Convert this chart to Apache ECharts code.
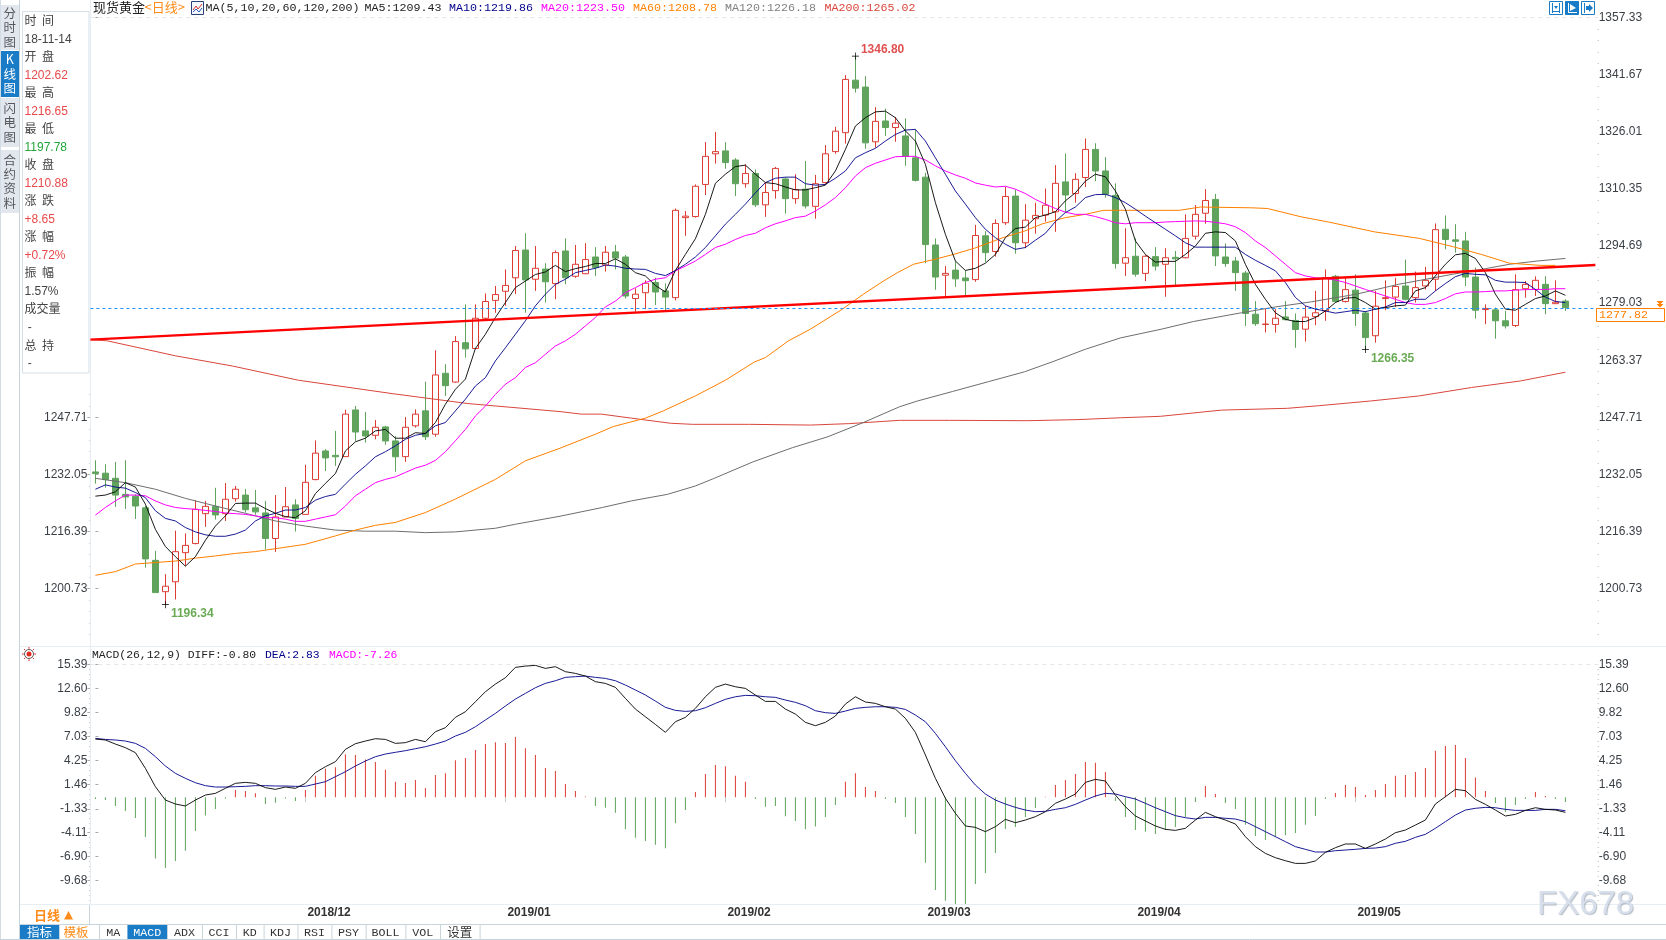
<!DOCTYPE html>
<html><head><meta charset="utf-8">
<style>html,body{margin:0;padding:0;background:#fff;overflow:hidden}#c{width:1666px;height:940px}</style>
<script src="https://cdn.jsdelivr.net/npm/echarts@6/dist/echarts.min.js"></script>
</head><body><div id="c"></div>
<script>
// [open, close, low, high]
const candles = [
[1232.75,1232.3,1229.55,1235.95],[1232.4,1230.65,1228.45,1234.85],[1231,1226.4,1223.15,1235.5],[1226.6,1225.9,1222.6,1235.95],[1226.1,1223.4,1219.85,1226.6],
[1222.9,1208.9,1206.5,1223.4],[1208.5,1199.65,1199.65,1211.1],[1199.9,1201.4,1196.34,1204.7],[1202.62,1210.88,1197.78,1216.65],[1210.6,1212.6,1207,1215.9],
[1213.1,1222.5,1212.9,1225],[1221.3,1223.3,1217.7,1224.8],[1223.3,1220.96,1219.7,1228.4],[1221.3,1225.25,1219.3,1229.7],[1225.4,1228,1224.6,1228.9],
[1226.4,1222.4,1221.6,1228.1],[1222.9,1221.8,1221,1227.8],[1221.5,1214.5,1211.5,1224.8],[1214.5,1220.4,1210.8,1226.4],[1220.4,1223.2,1220.4,1228.6],
[1223.7,1220,1216.4,1225.25],[1221.1,1229.9,1221.1,1234.7],[1230.65,1237.9,1230.45,1241.4],[1238.5,1236.6,1233,1239],[1237.3,1236.9,1234.4,1244],
[1236.95,1248.6,1236.85,1249.8],[1249.75,1243.7,1241.25,1250.85],[1244,1242.6,1240.8,1249.2],[1242.8,1245,1241.7,1247],[1245.1,1241.25,1240.2,1245.4],
[1241.25,1236.9,1232.8,1242.6],[1236.95,1245,1235.5,1247.8],[1245.4,1248.6,1244.9,1249.9],[1249.5,1242.4,1241.5,1257.5],[1243.1,1259.35,1242.4,1266.1],
[1259.8,1256.4,1253.6,1262.3],[1257.4,1268.5,1257.2,1270],[1268.2,1266.5,1264.1,1278.7],[1266.6,1274.9,1266.4,1278.7],[1274.9,1279.5,1274.6,1281.7],
[1279.8,1281.4,1276.4,1283.75],[1282.3,1283.9,1278.3,1288.3],[1286,1293.5,1281.5,1294.7],[1293.6,1285.4,1276.4,1298.2],[1285.6,1288.6,1282.4,1294.7],
[1288.4,1284.9,1279.2,1290],[1284.4,1292.9,1280.1,1293.5],[1293.35,1286,1284.2,1296.8],[1286.4,1289.7,1286,1295],[1287.1,1291,1287,1295.5],
[1291.7,1288.8,1286.5,1294.4],[1289.5,1293,1287.7,1294.7],[1293.1,1291.4,1288.3,1295],[1291.7,1281,1280.3,1292.25],[1280.3,1281.5,1276.7,1283.1],
[1281.9,1284.5,1277.4,1285.3],[1284.7,1282.1,1278.5,1286],[1282.4,1280.7,1277.1,1284.5],[1280.55,1304.5,1279.8,1305],[1302.5,1302.9,1297.5,1304.3],
[1302.8,1311.1,1302.5,1311.6],[1311.6,1319.3,1308.7,1323.2],[1320,1320.6,1317.3,1326],[1320.8,1317.6,1315.9,1323.2],[1318.3,1311.8,1308.4,1318.8],
[1311.8,1314.6,1310.7,1317.1],[1314.6,1306,1305.4,1315.7],[1306,1309.4,1302.7,1312.1],[1309.9,1316,1307.7,1316.4],[1313.1,1307.7,1303.6,1313.5],
[1307.7,1310.2,1306.3,1314.4],[1310.3,1305.7,1305,1318],[1305.6,1311.8,1302.2,1314.2],[1312.1,1320,1311.8,1322.4],[1320.6,1326.2,1320,1327.4],
[1325.8,1340.4,1322.8,1341.6],[1340.2,1338,1336.8,1346.8],[1338.3,1323,1321.4,1341.3],[1323.3,1328.9,1321.7,1332.8],[1329,1327.2,1324.9,1332.4],
[1327.2,1328.4,1323.3,1330.1],[1324.9,1319.3,1316.7,1329.7],[1318.9,1312.7,1312.4,1326.5],[1313.6,1295.1,1290,1314.8],[1295,1286.2,1282.7,1296.8],
[1286.7,1287.2,1281,1289.2],[1288.1,1285.7,1283.5,1290.6],[1285.95,1285.2,1281,1288],[1285.5,1297.6,1284.9,1300.5],[1297.5,1292.9,1290.3,1298.8],
[1293.2,1300.9,1291.8,1302],[1301.1,1308.3,1300.5,1310.9],[1308.4,1295.6,1292.6,1310.2],[1295.6,1301.8,1294.1,1306.2],[1302.2,1303.1,1298.1,1306.6],
[1303.2,1305.9,1301.4,1310.5],[1304.1,1311.9,1298.6,1316.9],[1312.3,1308.7,1304.1,1320.1],[1309.1,1313,1306.6,1314.7],[1313.5,1321.2,1310.9,1324.2],
[1321.2,1315.3,1312.5,1322.9],[1315.3,1308.9,1308,1319.1],[1308.6,1289.9,1288.5,1311.9],[1290,1291.5,1286.5,1299.6],[1291.9,1287,1286.3,1296.8],
[1287.2,1291.9,1285.1,1292.2],[1291.8,1289.2,1288,1294.4],[1289.7,1291.5,1280.8,1294.1],[1291.6,1291.2,1283.75,1293.35],[1291.5,1296.8,1291.3,1303.4],
[1297.4,1303.4,1296.5,1305.95],[1303.7,1307.2,1300.8,1310.3],[1307.5,1292,1289.2,1309],[1291.7,1289.9,1289,1295.4],[1290.6,1287.4,1282.4,1291.7],
[1287.3,1276.2,1272.8,1287.9],[1276,1273.4,1272.8,1279.6],[1273.2,1273.3,1271,1277.4],[1273.2,1274.9,1270.95,1277.4],[1275.25,1274.5,1274.3,1279.6],
[1274.3,1271.8,1266.8,1276.2],[1271.9,1275.2,1268.5,1278.3],[1275.35,1276.4,1273,1282.4],[1276.9,1286,1274.2,1288.3],[1286.4,1279.5,1279.2,1286.8],
[1279.5,1282.75,1279.2,1286],[1282.6,1276.2,1272.8,1286.95],[1276.35,1269.6,1266.35,1276.9],[1270.1,1278.2,1268.2,1282.4],[1280.3,1280.55,1277.1,1285.3],
[1280.7,1283.6,1278,1286],[1283.75,1280.1,1279.8,1291],[1280.55,1283.3,1279.2,1287.7],[1283.75,1285.3,1282.8,1289],[1285.6,1299.2,1282.4,1300.9],
[1299.3,1296.5,1293.8,1303.1],[1296.4,1296,1292.9,1300.7],[1296.1,1286.2,1283.75,1298.6],[1286.2,1277.1,1274.8,1288.8],[1277.3,1277.6,1273.25,1278.7],
[1277.2,1274.2,1269.3,1277.8],[1274.2,1272.8,1272.1,1276.9],[1272.9,1282.75,1272.5,1286.95],[1283,1284.2,1280.55,1285.1],[1282.8,1285.3,1281,1286.4],
[1284.2,1278.9,1276,1286.4],[1278.9,1279.3,1278.9,1285.3],[1279.6,1277.82,1276.9,1280.1]];

const ma5 = [1226.1,1226.4,1227.3,1229.8,1228.6,1223.9,1217.0,1212.3,1209.5,1206.9,1209.5,1214.0,1217.9,1220.7,1224.1,1224.2,1224.2,1222.7,1221.4,1220.5,1220.2,1222.1,1226.8,1229.6,1232.3,1238.5,1241.0,1242.0,1244.0,1244.4,1242.0,1242.0,1243.5,1243.3,1246.3,1251.3,1255.4,1258.2,1266.6,1270.5,1275.1,1279.2,1283.3,1285.1,1286.9,1287.6,1289.4,1287.7,1288.5,1289.1,1289.9,1289.9,1291.2,1289.7,1287.4,1286.5,1283.9,1282.1,1288.0,1292.4,1296.7,1303.4,1311.9,1314.4,1316.5,1316.9,1314.4,1312.1,1311.8,1310.9,1310.1,1310.1,1310.7,1311.4,1315.3,1321.2,1327.6,1329.9,1331.5,1331.7,1329.9,1326.3,1323.5,1317.1,1306.6,1297.9,1290.6,1288.0,1288.6,1290.0,1292.4,1297.0,1299.5,1299.9,1302.5,1303.2,1304.1,1307.1,1309.3,1312.5,1314.4,1313.7,1309.8,1304.8,1296.1,1292.4,1290.3,1290.5,1290.5,1292.4,1294.7,1298.2,1298.6,1298.4,1296.1,1289.7,1284.2,1280.1,1276.4,1274.6,1274.0,1274.0,1275.1,1276.9,1279.2,1280.4,1280.6,1279.2,1277.4,1277.8,1278.3,1278.5,1282.4,1283.3,1286.5,1289.7,1292.3,1292.7,1291.3,1287.4,1281.5,1277.4,1277.1,1278.7,1280.3,1281.0,1282.4,1281.2];
const ma10 = [1228.0,1229.2,1228.6,1228.3,1227.1,1225.7,1222.1,1220.0,1219.3,1217.5,1216.3,1215.5,1215.1,1215.1,1215.7,1216.8,1219.3,1220.7,1221.4,1222.3,1222.3,1223.0,1225.0,1226.0,1226.6,1229.4,1232.1,1234.4,1236.9,1238.3,1239.9,1241.7,1242.8,1243.3,1245.4,1246.3,1249.5,1252.7,1256.3,1258.6,1263.2,1266.8,1270.5,1274.2,1278.3,1281.5,1284.2,1285.6,1287.4,1288.0,1288.6,1289.5,1289.2,1288.6,1288.4,1288.3,1287.2,1286.6,1288.0,1289.7,1291.7,1294.3,1297.5,1300.7,1303.4,1306.2,1309.3,1312.1,1313.3,1313.6,1313.6,1311.8,1311.4,1311.6,1313.3,1315.3,1318.9,1320.3,1321.5,1323.5,1325.3,1326.5,1326.7,1323.5,1318.9,1314.4,1309.8,1306.2,1302.5,1299.3,1297.0,1295.2,1293.8,1294.3,1296.3,1298.2,1301.4,1303.9,1305.4,1308.0,1308.8,1308.9,1308.0,1306.6,1304.8,1302.9,1301.1,1299.3,1297.5,1295.6,1294.4,1294.4,1294.4,1294.4,1294.4,1292.4,1290.8,1289.4,1287.9,1284.7,1280.6,1278.3,1277.4,1276.9,1276.3,1276.7,1277.1,1276.7,1277.4,1278.0,1279.2,1279.2,1280.1,1280.1,1282.4,1284.4,1286.3,1287.2,1286.95,1286.8,1285.3,1284.8,1284.8,1284.7,1282.8,1280.7,1279.5,1279.2];
const ma20 = [1220.9,1223.0,1224.8,1226.4,1226.4,1226.2,1224.8,1223.7,1223.0,1222.7,1222.5,1222.2,1221.9,1221.5,1221.3,1221.1,1220.7,1220.2,1220.2,1219.8,1219.2,1219.2,1219.8,1220.4,1221.0,1223.4,1226.2,1228.0,1229.8,1230.7,1231.4,1232.6,1233.8,1234.6,1235.9,1238.3,1241.3,1244.4,1248.1,1250.8,1254.0,1256.8,1258.6,1261.4,1262.7,1265.0,1267.3,1268.7,1270.5,1272.8,1275.1,1278.0,1279.6,1281.9,1283.3,1284.7,1285.6,1286.0,1287.9,1289.2,1290.6,1292.4,1294.3,1295.2,1296.5,1297.6,1298.2,1299.7,1300.8,1301.6,1302.5,1302.9,1304.3,1306.0,1308.0,1310.7,1313.9,1316.2,1317.4,1318.3,1319.2,1319.3,1319.3,1318.3,1316.7,1315.3,1314.2,1313.3,1312.0,1311.4,1310.9,1311.1,1310.3,1309.1,1307.5,1306.2,1305.0,1304.0,1303.4,1303.4,1302.8,1302.0,1301.1,1300.8,1301.1,1301.1,1301.1,1301.3,1301.4,1301.5,1301.6,1301.5,1301.2,1300.8,1300.0,1298.4,1296.1,1294.3,1292.0,1289.7,1287.4,1286.5,1286.0,1285.8,1285.4,1284.7,1283.75,1282.8,1281.9,1281.0,1280.1,1279.2,1278.7,1278.7,1279.2,1280.3,1281.6,1282.1,1282.1,1282.2,1282.4,1282.4,1282.6,1282.75,1282.8,1282.8,1283.0,1283.0];
// [candle position, value]
const ma60 = [[0,1204.4],[2,1205.4],[4,1207.5],[6,1207.9],[8,1208.3],[10,1209.1],[12,1209.7],[14,1210.4],[16,1210.9],[18,1211.7],[21,1212.9],[24,1215.2],[26,1216.8],[28,1218.1],[30,1218.9],[33,1221.6],[36,1225.3],[40,1230.7],[43,1235.8],[46.46,1239.25],[50,1243.1],[51.8,1245.2],[55,1247.5],[56.8,1249.5],[60,1253.6],[63,1257.9],[65.9,1262.9],[67,1264.1],[69.3,1268.7],[71.5,1271.9],[74.7,1277.4],[76.8,1281.5],[78.8,1285.1],[80.2,1287.4],[81.8,1289.7],[84,1291.1],[85.8,1292.4],[87.9,1294.1],[90.75,1297.0],[92.9,1298.8],[94.7,1300.8],[97,1302.5],[99,1303.4],[100.8,1304.5],[102.5,1304.5],[108.4,1304.5],[110.5,1305.4],[115.5,1305.2],[117.2,1305.0],[120.6,1302.7],[123.3,1301.3],[127.9,1298.6],[132.4,1296.8],[135.8,1294.5],[138.6,1292.4],[141.4,1290.0],[144.5,1289.4],[146,1289.4]];
const ma120 = [[0,1231.0],[3,1229.8],[6,1228.0],[9,1225.5],[12,1223.4],[15,1221.4],[18,1219.3],[21,1217.9],[24,1216.8],[27,1216.5],[30,1216.5],[33,1216.1],[36,1216.3],[40,1217.3],[42,1218.4],[46.46,1220.6],[50.7,1223.0],[53.6,1224.8],[57.2,1226.6],[60,1228.9],[61.8,1230.9],[65.75,1235.5],[69.7,1239.4],[73.25,1242.4],[76.8,1246.3],[80.4,1250.6],[82.2,1252.2],[85.7,1254.8],[89.3,1257.5],[92.9,1260.2],[95.75,1263.0],[99,1266.4],[102.5,1269.5],[106.6,1271.9],[109.8,1274.0],[114.6,1276.4],[118,1278.0],[121.6,1279.4],[126.1,1281.5],[130.3,1284.2],[135.8,1287.0],[139,1288.5],[141.4,1289.7],[144.2,1290.6],[147,1291.3]];
const ma200 = [[-0.3,1269.0],[1.2,1268.7],[8,1264.6],[13.7,1261.8],[20.3,1257.9],[29.75,1254.2],[37.25,1251.5],[46.46,1249.3],[48.6,1248.6],[50.6,1248.6],[53.6,1247.5],[57.5,1246.1],[59.7,1245.8],[65.4,1245.8],[71.5,1245.6],[75.4,1246.0],[80.4,1246.9],[85.4,1246.9],[93.25,1246.8],[98.25,1247.1],[102.5,1247.6],[106.5,1248.0],[112.6,1249.7],[119.2,1250.2],[122.3,1250.9],[127.5,1252.2],[132.4,1253.6],[137.6,1255.9],[142.5,1257.7],[147,1260.1]];
const trendLine = [[-0.5,1269.04],[150,1289.5]];
const priceLine = 1277.57;
const extremes = [{i:76,v:1346.80,side:'up'},{i:7,v:1196.34,side:'down'},{i:127,v:1266.35,side:'down'}];

const macdBars = [-0.2,-0.3,-1.0,-1.6,-2.4,-4.6,-7.1,-8.2,-7.4,-6.2,-3.9,-2.1,-1.35,-0.15,0.85,0.73,0.46,-0.77,-0.62,-0.15,-0.43,0.85,2.5,3.3,3.5,5.0,4.9,4.4,4.1,3.2,1.8,1.66,2.0,1.08,2.6,2.8,4.3,4.56,5.5,6.2,6.4,6.3,7.0,5.7,4.9,3.4,3.06,1.55,0.73,0.08,-1.0,-1.2,-1.8,-3.7,-4.7,-5.07,-5.5,-5.9,-3.0,-1.47,0.62,2.7,3.75,3.6,2.5,1.8,-0.2,-1.1,-1.0,-2.2,-2.75,-3.7,-3.4,-2.3,-0.9,1.8,2.8,1.2,0.73,-0.2,-0.66,-2.3,-4.25,-7.6,-10.75,-12.0,-13,-13,-10.05,-8.8,-6.46,-3.67,-3.44,-2.3,-1.24,0.05,1.43,2.0,2.7,4.1,4.0,2.94,-0.43,-2.3,-3.8,-4.0,-4.25,-3.8,-3.44,-2.3,-0.54,1.3,0.39,-0.66,-1.35,-3.2,-4.5,-4.95,-4.6,-4.4,-4.14,-3.2,-2.17,-0.2,0.5,1.43,1.2,0.27,0.85,1.55,2.5,2.6,2.94,3.4,5.4,5.96,6.07,4.56,2.3,0.73,-0.66,-1.7,-0.9,-0.2,0.62,0.15,-0.2,-0.54];
const diff = [6.76,6.65,6.18,5.76,5.18,3.36,1.23,-0.32,-0.78,-1.01,-0.32,0.26,0.46,1.04,1.62,1.73,1.62,1.12,0.92,1.19,1.04,1.62,2.86,3.55,4.13,5.56,6.22,6.53,6.8,6.72,6.26,6.34,6.72,6.45,7.61,8.08,9.28,9.93,11.09,12.25,13.14,13.88,15.08,15.23,15.31,14.96,15.16,14.58,14.38,14.07,13.42,13.22,12.76,11.48,10.24,9.35,8.46,7.54,8.77,9.28,10.32,11.67,12.76,13.14,12.83,12.64,11.87,11.13,11.13,10.24,9.66,8.70,8.31,8.70,9.43,10.82,11.67,11.06,10.9,10.51,10.24,9.16,7.54,4.91,2.2,-0.12,-1.86,-3.33,-3.49,-3.99,-3.41,-2.56,-2.95,-2.64,-2.25,-1.67,-0.70,-0.2,0.38,1.73,2.08,1.89,0.26,-1.09,-2.17,-2.75,-3.33,-3.72,-3.84,-3.6,-2.64,-1.75,-2.25,-2.64,-3.1,-4.57,-5.73,-6.51,-7.01,-7.36,-7.67,-7.67,-7.39,-6.39,-5.85,-5.42,-5.42,-5.93,-5.42,-4.84,-4.11,-3.8,-3.22,-2.64,-0.78,0.07,0.92,0.77,-0.24,-0.82,-1.48,-2.17,-1.98,-1.52,-1.21,-1.4,-1.48,-1.75];
const dea = [6.84,6.72,6.65,6.53,6.26,5.68,4.71,3.63,2.78,2.2,1.69,1.35,1.19,1.19,1.23,1.27,1.35,1.35,1.31,1.31,1.27,1.27,1.54,1.81,2.39,2.97,3.63,4.21,4.71,5.02,5.22,5.41,5.64,5.87,6.18,6.53,7.11,7.54,8.19,8.97,9.74,10.59,11.4,12.06,12.72,13.22,13.53,13.92,14.0,14.07,13.92,13.8,13.53,13.03,12.45,11.87,11.17,10.44,10.09,9.97,10.05,10.4,10.9,11.37,11.67,11.83,11.79,11.67,11.6,11.29,11.02,10.63,10.05,9.82,9.74,10.01,10.32,10.44,10.51,10.51,10.44,10.2,9.55,8.77,7.42,5.87,4.25,2.78,1.42,0.38,-0.32,-0.78,-1.17,-1.48,-1.67,-1.63,-1.4,-1.21,-0.82,-0.32,0.15,0.46,0.38,0.07,-0.2,-0.7,-1.21,-1.67,-2.13,-2.37,-2.52,-2.33,-2.33,-2.44,-2.52,-2.83,-3.41,-3.99,-4.57,-5.15,-5.73,-6.04,-6.35,-6.35,-6.2,-6.12,-6.04,-5.93,-5.89,-5.73,-5.34,-5.11,-4.65,-4.3,-3.6,-2.83,-2.06,-1.48,-1.28,-1.17,-1.21,-1.4,-1.52,-1.52,-1.52,-1.4,-1.4,-1.56];

const priceTicks = [1357.33,1341.67,1326.01,1310.35,1294.69,1279.03,1263.37,1247.71,1232.05,1216.39,1200.73];
const priceTicksLeft = [1247.71,1232.05,1216.39,1200.73];
const macdTicks = [15.39,12.60,9.82,7.03,4.25,1.46,-1.33,-4.11,-6.90,-9.68];
const monthLabels = {21:'2018/12',41:'2019/01',63:'2019/02',83:'2019/03',104:'2019/04',126:'2019/05'};
const slotCount = 151;

const infoRows = [['时  间','#444'],['18-11-14','#444'],['开  盘','#444'],['1202.62','#e8494b'],['最  高','#444'],['1216.65','#e8494b'],['最  低','#444'],['1197.78','#22a53a'],['收  盘','#444'],['1210.88','#e8494b'],['涨  跌','#444'],['+8.65','#e8494b'],['涨  幅','#444'],['+0.72%','#e8494b'],['振  幅','#444'],['1.57%','#444'],['成交量','#444'],[' -','#444'],['总  持','#444'],[' -','#444']];
const headerItems = [['现货黄金',93,'#222','cjk'],['<日线>',144.5,'#ff8c1a','cjk'],['MA(5,10,20,60,120,200)',205.5,'#222','mono'],['MA5:1209.43',364.5,'#222','mono'],['MA10:1219.86',449,'#00008b','mono'],['MA20:1223.50',541,'#ff00ff','mono'],['MA60:1208.78',633,'#ff8000','mono'],['MA120:1226.18',725,'#808080','mono'],['MA200:1265.02',824.5,'#d9463c','mono']];
const macdHeader = [['MACD(26,12,9) DIFF:-0.80',92,'#222'],['DEA:2.83',265,'#00008b'],['MACD:-7.26',329,'#ff00ff']];
const bottomTabs = [['指标',20,59,1,'cjk'],['模板',59,99,0,'cjk'],['MA',99,127.5,0,'mono'],['MACD',127.5,167,1,'mono'],['ADX',167,202,0,'mono'],['CCI',202,236,0,'mono'],['KD',236,263.6,0,'mono'],['KDJ',263.6,297.5,0,'mono'],['RSI',297.5,331.4,0,'mono'],['PSY',331.4,365.7,0,'mono'],['BOLL',365.7,405.4,0,'mono'],['VOL',405.4,440,0,'mono'],['设置',440,479.6,0,'cjk']];
const sideTabs = [['分\n时\n图',5,50,0],['K\n线\n图',51,97,1],['闪\n电\n图',98,147,0],['合\n约\n资\n料',150,213,0]];

const RED='#dd3c33', GREEN='#5fa35c', BLUE='#1a7cc7', LINE='#e6eef3', EDGE='#c8d4dc';
const SANS="'Liberation Sans',Arial,sans-serif", MONO="'Liberation Mono',monospace", CJK="'Noto Sans CJK SC',sans-serif";
const cats = Array.from({length:slotCount},(_,i)=>monthLabels[i]||'');
const pairs = a => a.map((v,i)=>[i,v]);

const PRICE_MAX=1357.33, PRICE_MIN=1184.54, MACD_MAX=15.39, MACD_MIN=-12.42;
function dots(ticks,step,lo,hi){const out=[];const top=ticks[0];for(let k=0;;k++){const v=top-k*step/5;if(v<lo)break;if(v<=hi&&k%5!==0)out.push(v);}return out;}

function yA(gridIndex,pos,min,max,opts){
  return Object.assign({type:'value',gridIndex,position:pos,min,max,splitLine:{show:false},axisLine:{show:false},
    axisTick:{show:false},axisLabel:{show:false}},opts);
}
function labelled(gridIndex,pos,min,max,ticks,offset,extraPad){
  return yA(gridIndex,pos,min,max,{offset,
    axisTick:{show:true,length:3,lineStyle:{color:'#aaa'},customValues:ticks},
    axisLabel:{show:true,customValues:ticks,margin:0,formatter:v=>v.toFixed(2),color:'#3a3f45',fontFamily:SANS,fontSize:12,padding:extraPad}});
}
function dotted(gridIndex,pos,min,max,vals,offset){
  return yA(gridIndex,pos,min,max,{offset,axisTick:{show:true,length:1,lineStyle:{color:'#b5b5b5'},customValues:vals}});
}
const yAxes=[
 labelled(0,'right',PRICE_MIN,PRICE_MAX,priceTicks,-2.7,[0,0,0,1]),
 labelled(0,'left',PRICE_MIN,PRICE_MAX,priceTicksLeft,0,[0,3,0,0]),
 dotted(0,'right',PRICE_MIN,PRICE_MAX,dots(priceTicks,15.66,PRICE_MIN,PRICE_MAX),-2.7),
 dotted(0,'left',PRICE_MIN,PRICE_MAX,dots(priceTicks,15.66,PRICE_MIN,1255),0),
 labelled(1,'right',MACD_MIN,MACD_MAX,macdTicks,-2.7,[0,0,2,1]),
 labelled(1,'left',MACD_MIN,MACD_MAX,macdTicks,0,[0,3,2,0]),
 dotted(1,'right',MACD_MIN,MACD_MAX,dots(macdTicks,2.785,MACD_MIN,MACD_MAX),-2.7),
 dotted(1,'left',MACD_MIN,MACD_MAX,dots(macdTicks,2.785,MACD_MIN,MACD_MAX),0)
];
const monthOnly=(i)=>!!monthLabels[i];
const xAxes=[
 {type:'category',gridIndex:0,data:cats,boundaryGap:true,axisLine:{show:false},axisTick:{show:false},axisLabel:{show:false},splitLine:{show:false}},
 {type:'category',gridIndex:1,data:cats,boundaryGap:true,axisLine:{show:false},
  axisTick:{show:true,alignWithLabel:true,interval:monthOnly,length:5,lineStyle:{color:'#c8c8c8'}},
  axisLabel:{show:true,interval:monthOnly,align:'left',padding:[0,0,0,2],margin:2.5,fontFamily:SANS,fontSize:12,fontWeight:'bold',color:'#333'},splitLine:{show:false}},
 {type:'value',gridIndex:0,min:-0.5,max:slotCount-0.5,show:false,splitLine:{show:false}},
 {type:'value',gridIndex:1,min:-0.5,max:slotCount-0.5,show:false,splitLine:{show:false}}
];
function lineS(data,color,width,xi,yi,z){
  return {type:'line',data,xAxisIndex:xi,yAxisIndex:yi,showSymbol:false,symbol:'none',silent:true,z:z||3,clip:true,
    lineStyle:{color,width:width||1},itemStyle:{color},emphasis:{disabled:true}};
}
const crossPath='path://M4.5 0h1v10h-1zM0 4.5h10v1H0z';
const series=[
 {type:'candlestick',xAxisIndex:0,yAxisIndex:0,data:candles,barWidth:7,z:2,silent:true,
  itemStyle:{color:'#fff',color0:GREEN,borderColor:RED,borderColor0:GREEN,borderWidth:1},
  markLine:{silent:true,symbol:'none',animation:false,label:{show:false},
    data:[{yAxis:priceLine,lineStyle:{color:'#1e90ff',type:[3,3],width:1}},{yAxis:PRICE_MAX,lineStyle:{color:'#e6e6e6',type:[4,4],width:1}}]},
  markPoint:{silent:true,animation:false,symbol:crossPath,symbolSize:7,itemStyle:{color:'#000'},
    data:extremes.map(e=>({coord:[e.i,e.v],value:e.v,label:{show:true,position:'right',formatter:e.v.toFixed(2),
      offset:e.side==='up'?[-3,-6.3]:[-3,9.2],color:e.side==='up'?'#e05050':'#6aaa55',fontFamily:SANS,fontSize:12,fontWeight:'bold'}}))}
 },
 lineS(ma200,'#d9463c',1,2,0),
 lineS(ma120,'#6e6e6e',1,2,0),
 lineS(ma60,'#ff8000',1,2,0),
 lineS(pairs(ma20),'#ff00ff',1,2,0),
 lineS(pairs(ma10),'#00008b',0.9,2,0),
 lineS(pairs(ma5),'#000000',0.9,2,0),
 lineS(trendLine,'#ff0000',2.3,2,0,4),
 {type:'bar',xAxisIndex:1,yAxisIndex:4,data:macdBars,barWidth:1,silent:true,z:2,
  itemStyle:{color:p=>p.value>=0?RED:GREEN},
  markLine:{silent:true,symbol:'none',animation:false,label:{show:false},data:[{yAxis:MACD_MAX,lineStyle:{color:'#e6e6e6',type:[4,4],width:1}}]}},
 lineS(pairs(dea),'#00008b',0.9,3,4),
 lineS(pairs(diff),'#000000',0.9,3,4)
];

// page furniture
const g=[];const Z=100;
const T=(x,y,text,fill,font,extra)=>g.push(Object.assign({type:'text',z:Z+2,silent:true,style:Object.assign({x,y,text,fill,font,verticalAlign:'middle',textVerticalAlign:'middle'},extra||{})}));
const R=(x,y,w,h,fill,stroke,z)=>g.push({type:'rect',z:z||Z,silent:true,shape:{x,y,width:w,height:h},style:{fill:fill||'none',stroke:stroke||'none',lineWidth:1}});
const L=(x1,y1,x2,y2,c,w,z)=>g.push({type:'line',z:z||Z,silent:true,shape:{x1,y1,x2,y2},style:{stroke:c,lineWidth:w||1}});
const PL=(pts,c,w)=>g.push({type:'polyline',z:Z+1,silent:true,shape:{points:pts},style:{stroke:c,lineWidth:w||1,fill:'none'}});
const PG=(pts,c)=>g.push({type:'polygon',z:Z+1,silent:true,shape:{points:pts},style:{fill:c}});

// frame lines
R(89,19,14,354,'#fff','none',1);
L(0.5,0,0.5,940,'#d3dde6');
L(19.5,0,19.5,940,EDGE);
L(20,646.5,1666,646.5,LINE);
L(90.5,0,90.5,904,LINE,1,1);
L(20,904.5,1666,904.5,LINE);
L(20,924.5,1666,924.5,EDGE);
L(0,939.5,1666,939.5,EDGE);
L(89.5,905,89.5,924,EDGE);
// left tabs
sideTabs.forEach(([t,y0,y1,on])=>{
  R(1,y0,18,y1-y0,on?BLUE:'#e1e7ed');
  g.push({type:'text',z:Z+2,silent:true,style:{x:9.7,y:(y0+y1)/2,text:t,fill:on?'#fff':'#55595e',font:'12.5px '+CJK,lineHeight:14.3,align:'center',textAlign:'center',verticalAlign:'middle',textVerticalAlign:'middle'}});
});
// info panel
R(22.5,11.5,66.5,361.5,'#fff','#d5dfe7');
const infoY=[20.7,39.3,56.7,75.3,92.7,111.3,128.7,147.3,164.7,183.3,200.7,219.3,236.7,255.3,272.7,291.3,308.7,328,345,364];
infoRows.forEach(([t,c],k)=>{const isCjk=/[^\x00-\x7f]/.test(t);T(24.5,infoY[k],t,c,(isCjk?'12px '+CJK:'12px '+SANS));});
// header
headerItems.forEach(([t,x,c,f])=>T(x,7.5,t,c,f==='cjk'?'13px '+CJK:'11.67px '+MONO));
macdHeader.forEach(([t,x,c])=>T(x,655,t,c,'11.4px '+MONO));
// MA icon
R(191.5,1.5,12,13,'#f4f7fb','#2b3f7a');
PL([[193,10],[196,6],[198,9],[202,4]],'#d8332f');
PL([[193,12],[196,9],[199,12],[202,8]],'#2b5fc0');
// top-right buttons
R(1549.5,1.5,13,13,'#fff',BLUE);R(1565.5,1.5,13,13,BLUE,BLUE);R(1581.5,1.5,13,13,'#fff',BLUE);
L(1552.5,3,1552.5,13,BLUE);L(1559.5,3,1559.5,13,BLUE);L(1552,11.5,1560,11.5,BLUE);PG([[1554,6],[1558,6],[1556,9]],BLUE);
L(1568.5,3,1568.5,13,'#fff');L(1568,12.5,1577,12.5,'#fff');PG([[1570,4],[1576,8],[1570,11]],'#fff');
L(1584.5,3,1584.5,13,BLUE);PG([[1586,6],[1589,6],[1589,4],[1593,8],[1589,12],[1589,10],[1586,10]],BLUE);
// sun icon
g.push({type:'circle',z:Z+1,silent:true,shape:{cx:29,cy:654,r:2.5},style:{fill:'#e02a1e'}});
g.push({type:'circle',z:Z+1,silent:true,shape:{cx:29,cy:654,r:4.5},style:{fill:'none',stroke:'#333',lineWidth:0.8}});
[[0,-1],[0,1],[1,0],[-1,0],[.7,.7],[-.7,.7],[.7,-.7],[-.7,-.7]].forEach(([a,b])=>L(29+a*5.3,654+b*5.3,29+a*7,654+b*7,'#e02a1e',1,Z+1));
// period cell
T(34,915,'日线','#ff8c1a','bold 13px '+CJK);
PG([[64,919.5],[73,919.5],[68.5,911]],'#ff8c1a');
// bottom tabs
bottomTabs.forEach(([t,x0,x1,on,f],k)=>{
  if(on)R(x0,925,x1-x0,14,BLUE);
  L(x1+0.5,925,x1+0.5,939,EDGE);
  const c=on?'#fff':(t==='模板'?'#ff8c1a':'#333');
  g.push({type:'text',z:Z+2,silent:true,style:{x:(x0+x1)/2+(t==='模板'?-3:0),y:932.5,text:t,fill:c,font:(f==='cjk'?'12.5px '+CJK:'11.67px '+MONO),align:'center',textAlign:'center',verticalAlign:'middle',textVerticalAlign:'middle'}});
});
// last price box
R(1596.5,308.5,68,13,'#fff','#ff8000');
T(1599,315.3,'1277.82','#ff8000','11.67px '+MONO);
PG([[1656.5,301],[1663.5,301],[1660,304.5]],'#ff8000');
PG([[1656.5,304],[1663.5,304],[1660,307.5]],'#ff8000');
// watermark
g.push({type:'text',z:Z+3,silent:true,style:{x:1537,y:905,text:'FX678',fill:'#d6dfeb',font:'33px '+SANS,verticalAlign:'middle',textVerticalAlign:'middle',textShadowColor:'rgba(120,130,145,.55)',textShadowBlur:1,textShadowOffsetX:1,textShadowOffsetY:1}});

const chart=echarts.init(document.getElementById('c'),null,{renderer:'canvas'});
chart.setOption({animation:false,backgroundColor:'#fff',tooltip:{show:false},legend:{show:false},
  grid:[{left:90.4,top:17.7,width:1510,height:630,containLabel:false},{left:90.4,top:664.7,width:1510,height:239.6,containLabel:false}],
  xAxis:xAxes,yAxis:yAxes,series,graphic:{elements:g}});
</script></body></html>
